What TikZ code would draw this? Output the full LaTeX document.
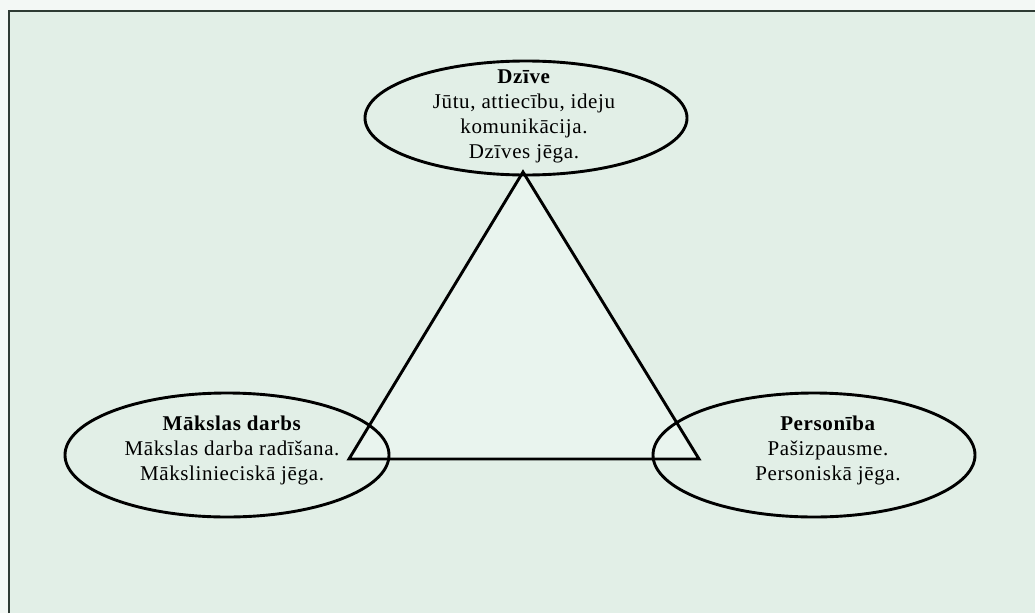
\documentclass[tikz,border=0pt]{standalone}
\usepackage{fontspec}
\setmainfont{Liberation Serif}
\newfontfamily\diagfont[LetterSpace=3]{Liberation Serif}
\usetikzlibrary{shapes.geometric}
\definecolor{paper}{HTML}{F3F8F5}
\definecolor{mint}{HTML}{E2EFE7}
\definecolor{minttri}{HTML}{E9F4EE}
\definecolor{framec}{HTML}{2E3B34}
\tikzset{
  oval/.style={ellipse, draw=black, line width=2.9pt, inner sep=0pt},
  label/.style={align=center, inner sep=0pt, font=\diagfont\fontsize{21pt}{25pt}\selectfont},
  edge/.style={draw=black, line width=2.9pt, line join=miter}
}
\begin{document}
\begin{tikzpicture}[x=1pt, y=-1pt]
  \useasboundingbox (0,0) rectangle (1035,613);
  % page and panel
  \fill[paper] (0,0) rectangle (1035,613);
  \fill[mint] (9,11) rectangle (1035,613);
  \draw[framec, line width=2pt] (9,613) -- (9,11) -- (1035,11);

  % triangle vertices
  \coordinate (apex) at (523,172);
  \coordinate (bl) at (349,459);
  \coordinate (br) at (699,459);
  \fill[minttri] (apex) -- (bl) -- (br) -- cycle;
  \draw[edge] (apex) -- (bl) -- (br) -- cycle;

  % ellipses
  \node[oval, minimum width=322pt, minimum height=114pt] (life) at (526,118) {};
  \node[oval, minimum width=324pt, minimum height=124pt] (art) at (227,455) {};
  \node[oval, minimum width=322pt, minimum height=124pt] (self) at (814,455) {};

  % texts
  \node[label] (lifetxt) at (524,116) {\textbf{Dzīve}\\Jūtu, attiecību, ideju\\komunikācija.\\Dzīves jēga.};
  \node[label] (arttxt) at (232,450) {\textbf{Mākslas darbs}\\Mākslas darba radīšana.\\Mākslinieciskā jēga.};
  \node[label] (selftxt) at (828,450) {\textbf{Personība}\\Pašizpausme.\\Personiskā jēga.};
\end{tikzpicture}
\end{document}
